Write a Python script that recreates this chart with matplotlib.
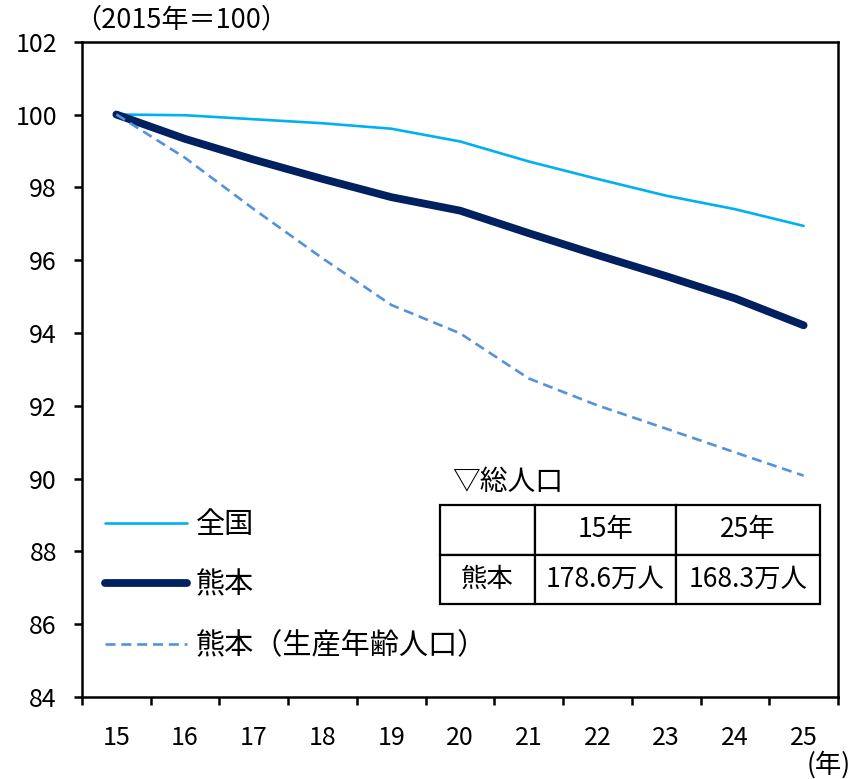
import matplotlib
matplotlib.use("Agg")
import matplotlib.pyplot as plt
import numpy as np

plt.rcParams['font.family'] = ['Noto Sans CJK JP', 'DejaVu Sans']

years = ["15", "16", "17", "18", "19", "20", "21", "22", "23", "24", "25"]
national = [100.0, 99.98, 99.87, 99.76, 99.61, 99.26, 98.71, 98.23, 97.77, 97.40, 96.94]
kumamoto = [100.0, 99.33, 98.76, 98.23, 97.73, 97.36, 96.74, 96.14, 95.56, 94.95, 94.21]
kumamoto_working = [100.0, 98.81, 97.40, 96.05, 94.77, 93.99, 92.75, 92.01, 91.37, 90.72, 90.08]

series_labels = ["全国", "熊本", "熊本（生産年齢人口）"]

table_header = ["", "15年", "25年"]
table_row = ["熊本", "178.6万人", "168.3万人"]

W, H = 852, 779
fig = plt.figure(figsize=(W / 100, H / 100), dpi=100)
left, right, top, bottom = 82, 838, 41.7, 697
ax = fig.add_axes([left / W, 1 - bottom / H, (right - left) / W, (bottom - top) / H])

x = np.arange(len(years))
ax.plot(x, national, color="#00B0F0", lw=1.9, solid_capstyle="round", label=series_labels[0], zorder=3)
ax.plot(x, kumamoto, color="#002060", lw=5.6, solid_capstyle="round", label=series_labels[1], zorder=4)
ax.plot(x, kumamoto_working, color="#5592DC", lw=1.9, dashes=(3.8, 2.2), label=series_labels[2], zorder=5)

ax.set_xlim(-0.5, len(years) - 0.5)
ax.set_ylim(84, 102)
ax.set_yticks(np.arange(84, 103, 2))
ax.set_yticklabels([str(v) for v in range(84, 103, 2)])
ax.set_xticks(x)
ax.set_xticklabels(years)
ax.set_xticks(np.arange(-0.5, len(years), 1), minor=True)

for s in ax.spines.values():
    s.set_linewidth(1.8)
    s.set_color("black")

ax.tick_params(axis="y", direction="out", length=6, width=1.8, pad=12, labelsize=18)
ax.tick_params(axis="x", which="major", length=0, pad=20, labelsize=18)
ax.tick_params(axis="x", which="minor", direction="out", length=6, width=1.8)

leg = ax.legend(loc="upper left", bbox_to_anchor=(0.015, 0.303), frameon=False,
                fontsize=21, handlelength=2.8, handletextpad=0.3, labelspacing=1.04,
                borderaxespad=0)

# Total population table
tbl = ax.table(cellText=[table_header, table_row],
               colWidths=[95, 141, 144],
               cellLoc="center",
               bbox=[(440 - left) / (right - left), (bottom - 604) / (bottom - top),
                     380 / (right - left), 99 / (bottom - top)])
tbl.auto_set_font_size(False)
for (r, c), cell in tbl.get_celld().items():
    cell.set_linewidth(1.6)
    cell.set_edgecolor("black")
    cell.get_text().set_fontsize(19)
ax.text((452 - left) / (right - left), (bottom - 482) / (bottom - top), "▽総人口",
        transform=ax.transAxes, fontsize=20, ha="left", va="center")

fig.text(74 / W, 1 - 20 / H, "（2015年＝100）", fontsize=19.5, ha="left", va="center")
fig.text(851 / W, 1 - 765 / H, "(年)", fontsize=19, ha="right", va="center")

fig.savefig("out.png", dpi=100, facecolor="white")
